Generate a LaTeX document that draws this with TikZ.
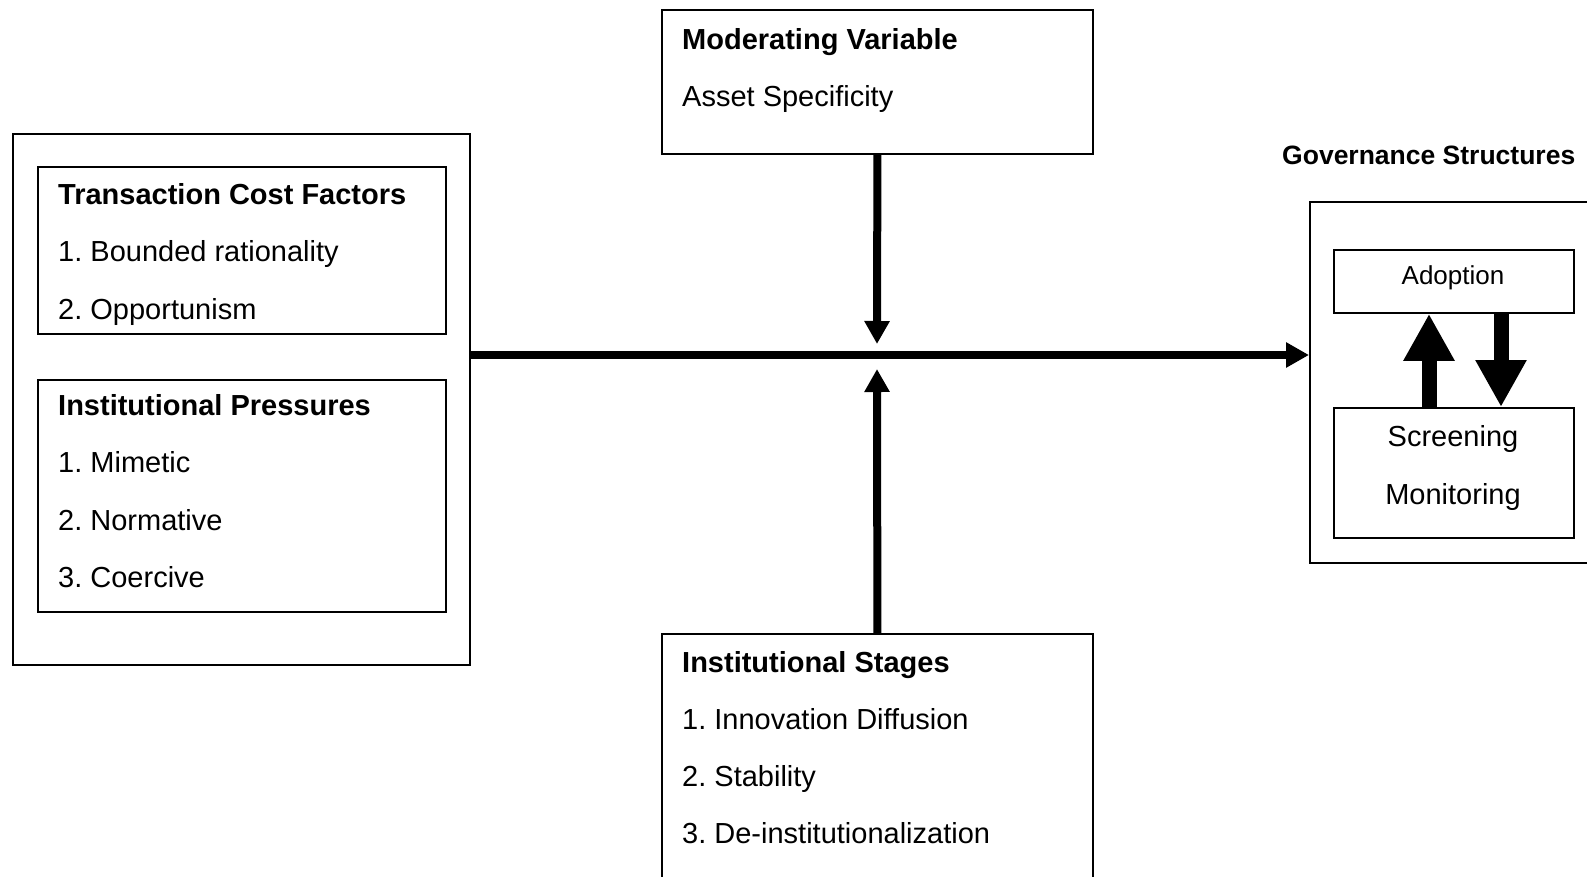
\documentclass[tikz,border=0pt]{standalone}
\usepackage{fontspec}
\setmainfont{Liberation Sans}
\usetikzlibrary{arrows.meta}
\frenchspacing
\begin{document}
\begin{tikzpicture}[x=1pt,y=-1pt,
  box/.style={draw=black, line width=1.8pt, fill=white, inner sep=0pt, anchor=north west},
  txt/.style={anchor=base west, inner sep=0pt, font=\fontsize{29}{34}\selectfont\frenchspacing},
  hd/.style={anchor=base west, inner sep=0pt, font=\fontsize{29}{34}\selectfont\bfseries},
  ctxt/.style={anchor=base, inner sep=0pt, font=\fontsize{29}{34}\selectfont},
  bigarrow/.style={line width=8pt, -{Triangle[length=23pt,width=24pt]}},
  fatarrow/.style={line width=15pt, -{Triangle[length=47pt,width=48pt]}}
]
\clip (0,0) rectangle (1587,876);
\fill[white] (0,0) rectangle (1587,876);

% left group
\node[box, minimum width=457pt, minimum height=531pt] (outer) at (12,133) {};
\node[box, minimum width=408pt, minimum height=167pt] (tcf) at (37,166) {};
\node[box, minimum width=408pt, minimum height=232pt] (ip) at (37,379) {};
\node[hd]  (tcfh) at (58,204.4) {Transaction Cost Factors};
\node[txt] (tcf1) at (58,261.9) {1.\ Bounded rationality};
\node[txt] (tcf2) at (58,319.4) {2.\ Opportunism};
\node[hd]  (iph)  at (58,415.4) {Institutional Pressures};
\node[txt] (ip1)  at (58,472.9) {1.\ Mimetic};
\node[txt] (ip2)  at (58,530.4) {2.\ Normative};
\node[txt] (ip3)  at (58,587.9) {3.\ Coercive};

% moderating variable
\node[box, minimum width=431pt, minimum height=144pt] (mod) at (661,9) {};
\node[hd]  (modh) at (682,49.4) {Moderating Variable};
\node[txt] (mod1) at (682,106.4) {Asset Specificity};

% institutional stages
\node[box, minimum width=431pt, minimum height=280pt] (stg) at (661,633) {};
\node[hd]  (stgh) at (682,672.4) {Institutional Stages};
\node[txt] (stg1) at (682,729.4) {1.\ Innovation Diffusion};
\node[txt] (stg2) at (682,786.4) {2.\ Stability};
\node[txt] (stg3) at (682,843.4) {3.\ De-institutionalization};

% governance structures
\node[anchor=base west, inner sep=0pt, font=\fontsize{26.5}{31}\selectfont\bfseries] (govh) at (1282,164.5) {Governance Structures};
\node[box, minimum width=300pt, minimum height=361pt] (gov) at (1309,201) {};
\node[box, minimum width=240pt, minimum height=63pt] (adopt) at (1333,249) {};
\node[box, minimum width=240pt, minimum height=130pt] (scr) at (1333,407) {};
\node[anchor=base, inner sep=0pt, font=\fontsize{26}{31}\selectfont] (adoptt) at (1453,284.3) {Adoption};
\node[ctxt] (scr1) at (1453,446.4) {Screening};
\node[ctxt] (scr2) at (1453,504.4) {Monitoring};

% connectors
\coordinate (j)  at (877,355);
\coordinate (jt) at (877,344);
\coordinate (jb) at (877,369);
\coordinate (ux) at (1429,0);
\coordinate (dx) at (1501,0);
\draw[bigarrow] (outer.east |- j) -- (gov.west |- j);
\draw[bigarrow] (mod.south) -- (jt);
\draw[bigarrow] (stg.north) -- (jb);
\draw[fatarrow] (scr.north -| ux) -- (adopt.south -| ux);
\draw[fatarrow] (adopt.south -| dx) -- (scr.north -| dx);
\end{tikzpicture}
\end{document}
